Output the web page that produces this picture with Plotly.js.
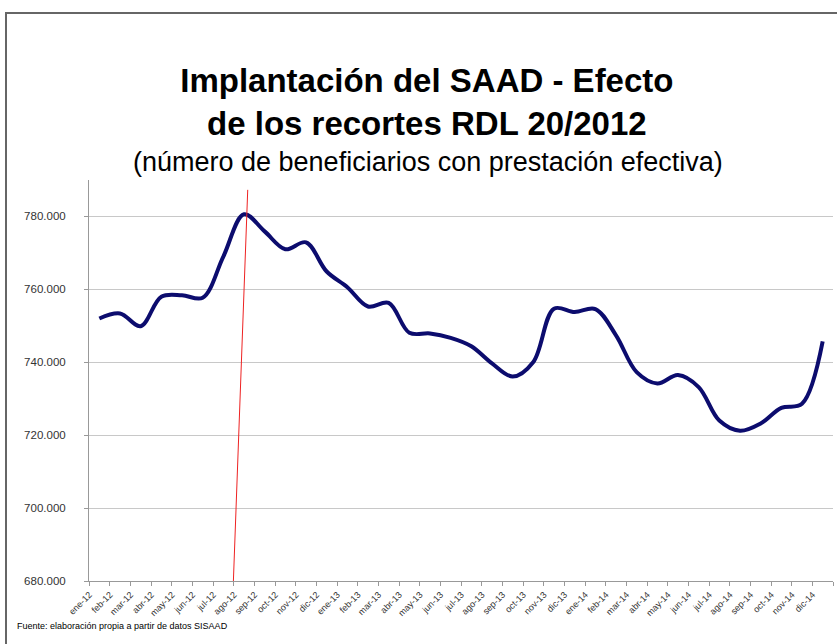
<!DOCTYPE html>
<html>
<head>
<meta charset="utf-8">
<script src="https://cdn.plot.ly/plotly-3.0.1.min.js"></script>
<style>
  body { margin: 0; background: #fff; }
  #wrap { position: relative; width: 837px; height: 644px; overflow: hidden; }
  #plot { width: 837px; height: 644px; }
  #frame { position: absolute; left: 5px; top: 12px; width: 900px; height: 700px;
           border-left: 2px solid #666; border-top: 2px solid #666; pointer-events: none; }
</style>
</head>
<body>
<div id="wrap">
  <div id="plot"></div>
  <div id="frame"></div>
</div>
<script>
// meses (eje de categorias)
const meses = [
  'ene-12','feb-12','mar-12','abr-12','may-12','jun-12','jul-12','ago-12','sep-12','oct-12','nov-12','dic-12',
  'ene-13','feb-13','mar-13','abr-13','may-13','jun-13','jul-13','ago-13','sep-13','oct-13','nov-13','dic-13',
  'ene-14','feb-14','mar-14','abr-14','may-14','jun-14','jul-14','ago-14','sep-14','oct-14','nov-14','dic-14'
];

// beneficiarios con prestacion efectiva
const beneficiarios = [
  752000, 753400, 749900, 758000, 758400, 757700, 769000, 780600, 775900, 771000, 772900, 764900,
  760600, 755300, 756300, 748100, 747900, 746700, 744400, 739700, 736100, 740100, 754700, 753800,
  754600, 747400, 737300, 734200, 736500, 733200, 724000, 721200, 723200, 727500, 728600, 745700
];

// linea roja: entrada en vigor del RDL 20/2012 (indice de categoria, valor)
const recorteX = [6.48, 7.18];
const recorteY = [679000, 787300];

const trace = {
  x: meses,
  y: beneficiarios,
  type: 'scatter',
  mode: 'lines',
  line: { color: '#0c0c6e', width: 4, shape: 'spline', smoothing: 1 },
  hoverinfo: 'x+y'
};

const layout = {
  width: 837,
  height: 644,
  margin: { l: 89, r: 4, t: 180, b: 63 },
  paper_bgcolor: 'rgba(0,0,0,0)',
  plot_bgcolor: '#fff',
  separators: ',.',
  showlegend: false,
  font: { family: 'Liberation Sans, Arial, sans-serif', color: '#222' },
  title: {
    text: '<b>Implantación del SAAD - Efecto<br>de los recortes RDL 20/2012</b>',
    font: { size: 33, color: '#000' },
    x: 0.51, xanchor: 'center',
    y: 0.857, yanchor: 'middle'
  },
  xaxis: {
    type: 'category',
    tickson: 'boundaries',
    ticks: 'outside',
    ticklen: 4,
    tickcolor: '#999',
    tickangle: -45,
    ticklabelshift: -10,
    ticklabelstandoff: 4,
    tickfont: { size: 9, color: '#333' },
    showline: true,
    linecolor: '#999',
    showgrid: false,
    range: [-0.5, 35.5]
  },
  yaxis: {
    range: [680000, 790000],
    tickvals: [680000, 700000, 720000, 740000, 760000, 780000],
    tickformat: ',d',
    ticks: 'outside',
    ticklen: 4,
    tickcolor: '#999',
    ticklabelstandoff: 16,
    tickfont: { size: 11.5, color: '#333' },
    showline: true,
    linecolor: '#999',
    gridcolor: '#c8c8c8',
    zeroline: false
  },
  shapes: [{
    type: 'line',
    xref: 'x', yref: 'y',
    x0: recorteX[0], x1: recorteX[1],
    y0: recorteY[0], y1: recorteY[1],
    line: { color: '#ee2222', width: 1 },
    layer: 'above'
  }],
  annotations: [
    {
      text: '(número de beneficiarios con prestación efectiva)',
      xref: 'paper', yref: 'paper',
      x: 0.455, y: 1.044,
      xanchor: 'center', yanchor: 'middle',
      showarrow: false,
      font: { size: 27, color: '#000' }
    },
    {
      text: 'Fuente: elaboración propia a partir de datos SISAAD',
      xref: 'paper', yref: 'paper',
      x: -0.1, y: -0.112,
      xanchor: 'left', yanchor: 'middle',
      showarrow: false,
      font: { size: 9, color: '#000' }
    }
  ]
};

Plotly.newPlot('plot', [trace], layout, { displayModeBar: false, staticPlot: true });
</script>
</body>
</html>
